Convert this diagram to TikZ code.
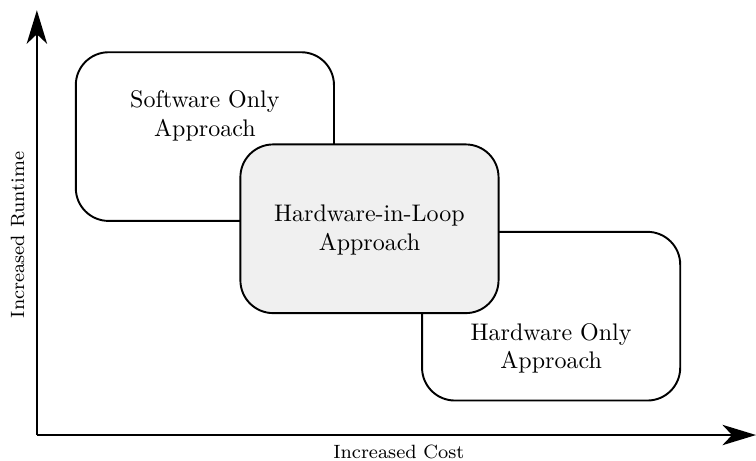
\documentclass[tikz,border=0pt]{standalone}
\usepackage{tikz}
\usetikzlibrary{arrows.meta}
\tikzset{
  >={Stealth[length=14pt,width=8.5pt,inset=4pt]},
  blk/.style={draw,rounded corners=0.48cm,minimum width=3.78cm,minimum height=2.47cm,inner sep=0pt,fill=white},
  txt/.style={align=center},
  ax/.style={font=\footnotesize},
  every picture/.style={line width=0.8pt},
}
\begin{document}
\begin{tikzpicture}
\useasboundingbox (-0.54,-0.37) rectangle (10.53,6.37);
\coordinate (O) at (0,0); \coordinate (Y) at (0,6.22); \coordinate (X) at (10.53,0);
\draw[->] (O)--(Y); \draw[->] (O)--(X);
\node[ax,rotate=90] (yl) at (-0.28,2.93){Increased Runtime};
\node[ax] (xl) at (5.30,-0.25){Increased Cost};
\node[blk] (sw) at (2.46,4.37){}; \node[txt] (swt) at (2.46,4.67){Software Only\\Approach};
\node[blk] (hw) at (7.53,1.74){}; \node[txt] (hwt) at (7.53,1.27){Hardware Only\\Approach};
\node[blk,fill=black!6] (hil) at (4.87,3.02){}; \node[txt] (hilt) at (4.87,3.00){Hardware-in-Loop\\Approach};
\end{tikzpicture}
\end{document}
